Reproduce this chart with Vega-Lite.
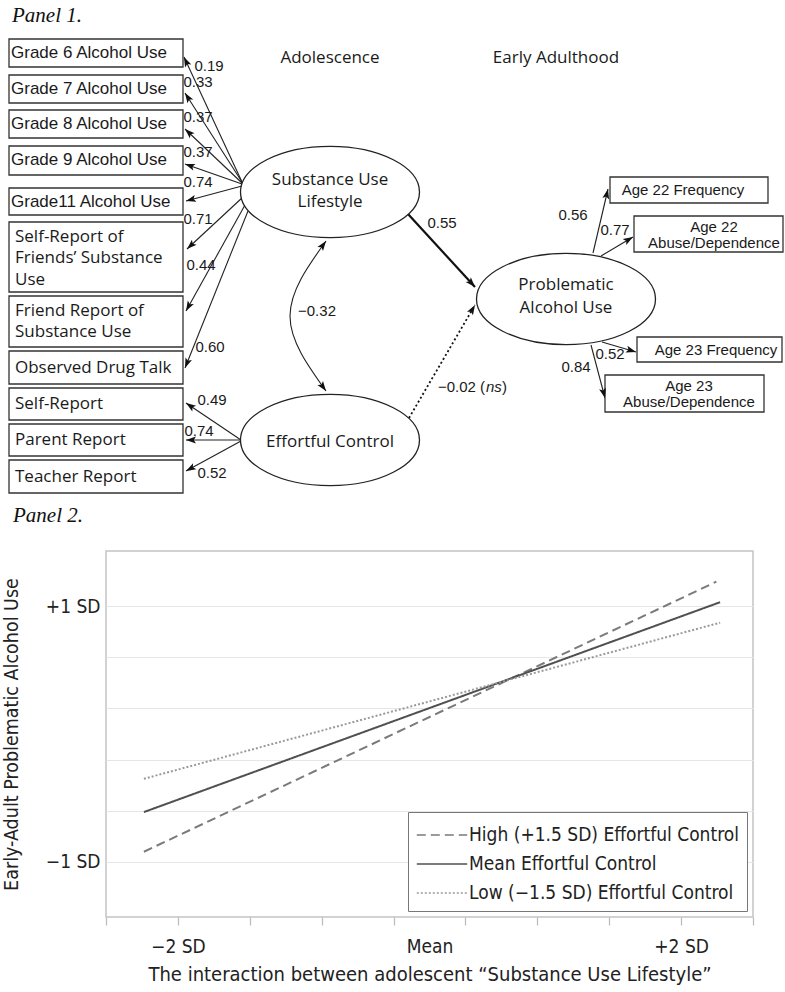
{
  "$schema": "https://vega.github.io/schema/vega-lite/v6.json",
  "padding": 0,
  "background": "white",
  "spacing": 4,
  "resolve": {"legend": {"color": "independent", "strokeDash": "independent"}},
  "config": {"view": {"stroke": null}},
  "datasets": {
    "boxes": [
      {"x1": 8, "x2": 182, "y1": 39, "y2": 67},
      {"x1": 8, "x2": 182, "y1": 75, "y2": 103},
      {"x1": 8, "x2": 182, "y1": 110, "y2": 138},
      {"x1": 8, "x2": 182, "y1": 146, "y2": 175},
      {"x1": 8, "x2": 182, "y1": 188, "y2": 215},
      {"x1": 8, "x2": 182, "y1": 222, "y2": 292},
      {"x1": 8, "x2": 182, "y1": 296, "y2": 347},
      {"x1": 8, "x2": 182, "y1": 351, "y2": 384},
      {"x1": 8, "x2": 182, "y1": 388, "y2": 420},
      {"x1": 8, "x2": 182, "y1": 424, "y2": 456},
      {"x1": 8, "x2": 182, "y1": 460, "y2": 493},
      {"x1": 609, "x2": 767, "y1": 177, "y2": 203},
      {"x1": 633, "x2": 782, "y1": 216, "y2": 252},
      {"x1": 636, "x2": 781, "y1": 337, "y2": 362},
      {"x1": 604, "x2": 763, "y1": 375, "y2": 412}
    ],
    "ellipses": [{"x": 329, "y": 192}, {"x": 329, "y": 440}, {"x": 565, "y": 299}],
    "edges": [
      {"x1": 241, "y1": 182, "x2": 183, "y2": 57},
      {"x1": 241, "y1": 182, "x2": 184, "y2": 93},
      {"x1": 241, "y1": 183, "x2": 184, "y2": 129},
      {"x1": 241, "y1": 184, "x2": 184, "y2": 164},
      {"x1": 241, "y1": 186, "x2": 185, "y2": 201},
      {"x1": 242, "y1": 197, "x2": 186, "y2": 249},
      {"x1": 244, "y1": 205, "x2": 185, "y2": 311},
      {"x1": 247, "y1": 211, "x2": 184, "y2": 368},
      {"x1": 240, "y1": 440, "x2": 185, "y2": 403},
      {"x1": 239, "y1": 440, "x2": 185, "y2": 440},
      {"x1": 240, "y1": 441, "x2": 185, "y2": 471},
      {"x1": 592, "y1": 253, "x2": 607, "y2": 189},
      {"x1": 600, "y1": 256, "x2": 632, "y2": 237},
      {"x1": 601, "y1": 342, "x2": 635, "y2": 352},
      {"x1": 590, "y1": 345, "x2": 604, "y2": 398}
    ],
    "thick": [{"x1": 407, "y1": 214, "x2": 474, "y2": 287}],
    "dotted": [{"x1": 408, "y1": 418, "x2": 474, "y2": 305}],
    "curve": [{"i": 0, "x": 325, "y": 241}, {"i": 1, "x": 289, "y": 316}, {"i": 2, "x": 325, "y": 391}],
    "heads": [
      {"x": 183, "y": 57, "angle": -24.9},
      {"x": 184, "y": 93, "angle": -32.6},
      {"x": 184, "y": 129, "angle": -46.5},
      {"x": 184, "y": 164, "angle": -70.7},
      {"x": 185, "y": 201, "angle": -105},
      {"x": 186, "y": 249, "angle": -132.9},
      {"x": 185, "y": 311, "angle": -150.9},
      {"x": 184, "y": 368, "angle": -158.1},
      {"x": 185, "y": 403, "angle": -56.1},
      {"x": 185, "y": 440, "angle": -90},
      {"x": 185, "y": 471, "angle": -118.6},
      {"x": 607, "y": 189, "angle": 13.2},
      {"x": 632, "y": 237, "angle": 59.3},
      {"x": 635, "y": 352, "angle": 106.4},
      {"x": 604, "y": 398, "angle": 165.2},
      {"x": 474, "y": 287, "angle": 137.5},
      {"x": 474, "y": 305, "angle": 30.3},
      {"x": 325, "y": 241, "angle": 35.8},
      {"x": 325, "y": 391, "angle": 144.2}
    ],
    "gradeText": [
      {"x": 10, "y": 53, "t": "Grade 6 Alcohol Use"},
      {"x": 10, "y": 89, "t": "Grade 7 Alcohol Use"},
      {"x": 10, "y": 124, "t": "Grade 8 Alcohol Use"},
      {"x": 10, "y": 160, "t": "Grade 9 Alcohol Use"},
      {"x": 10, "y": 202, "t": "Grade11 Alcohol Use"}
    ],
    "boxText": [
      {"x": 14, "y": 237, "t": "Self-Report of"},
      {"x": 14, "y": 258, "t": "Friends’ Substance"},
      {"x": 14, "y": 280, "t": "Use"},
      {"x": 14, "y": 311, "t": "Friend Report of"},
      {"x": 14, "y": 332, "t": "Substance Use"},
      {"x": 14, "y": 368, "t": "Observed Drug Talk"},
      {"x": 14, "y": 404, "t": "Self-Report"},
      {"x": 14, "y": 440, "t": "Parent Report"},
      {"x": 14, "y": 477, "t": "Teacher Report"}
    ],
    "rightText": [
      {"x": 682, "y": 190, "t": "Age 22 Frequency"},
      {"x": 713, "y": 227, "t": "Age 22"},
      {"x": 713, "y": 243, "t": "Abuse/Dependence"},
      {"x": 715, "y": 350, "t": "Age 23 Frequency"},
      {"x": 688, "y": 386, "t": "Age 23"},
      {"x": 688, "y": 402, "t": "Abuse/Dependence"}
    ],
    "coef": [
      {"x": 208, "y": 66, "t": "0.19"},
      {"x": 197, "y": 82, "t": "0.33"},
      {"x": 197, "y": 117, "t": "0.37"},
      {"x": 197, "y": 152, "t": "0.37"},
      {"x": 197, "y": 182, "t": "0.74"},
      {"x": 197, "y": 219, "t": "0.71"},
      {"x": 200, "y": 265, "t": "0.44"},
      {"x": 209, "y": 347, "t": "0.60"},
      {"x": 211, "y": 400, "t": "0.49"},
      {"x": 198, "y": 431, "t": "0.74"},
      {"x": 211, "y": 473, "t": "0.52"},
      {"x": 441, "y": 223, "t": "0.55"},
      {"x": 572, "y": 215, "t": "0.56"},
      {"x": 614, "y": 230, "t": "0.77"},
      {"x": 609, "y": 354, "t": "0.52"},
      {"x": 575, "y": 367, "t": "0.84"},
      {"x": 316, "y": 311, "t": "−0.32"}
    ],
    "nsA": [{"x": 437, "y": 387, "t": "−0.02 ("}, {"x": 501, "y": 387, "t": ")"}],
    "nsB": [{"x": 485, "y": 387, "t": "ns"}],
    "bigText": [
      {"x": 329, "y": 58, "t": "Adolescence"},
      {"x": 555, "y": 58, "t": "Early Adulthood"},
      {"x": 329, "y": 180, "t": "Substance Use"},
      {"x": 329, "y": 202, "t": "Lifestyle"},
      {"x": 329, "y": 442, "t": "Effortful Control"},
      {"x": 565, "y": 285, "t": "Problematic"},
      {"x": 565, "y": 308, "t": "Alcohol Use"}
    ],
    "panelTitle": [{"x": 11, "y": 16, "t": "Panel 1."}],
    "lines": [
      {"ec": "High (+1.5 SD) Effortful Control", "x": -2.27, "y": -0.92},
      {"ec": "High (+1.5 SD) Effortful Control", "x": 2.28, "y": 1.19},
      {"ec": "Mean Effortful Control", "x": -2.27, "y": -0.61},
      {"ec": "Mean Effortful Control", "x": 2.31, "y": 1.03},
      {"ec": "Low (−1.5 SD) Effortful Control", "x": -2.27, "y": -0.35},
      {"ec": "Low (−1.5 SD) Effortful Control", "x": 2.31, "y": 0.87}
    ]
  },
  "vconcat": [
    {
      "width": 647,
      "height": 500,
      "layer": [
        {
          "data": {"name": "edges"},
          "mark": {"type": "rule", "stroke": "#222", "strokeWidth": 1.1},
          "encoding": {
            "x": {"field": "x1", "type": "quantitative", "scale": {"domain": [105, 752], "nice": false, "zero": false}, "axis": null},
            "y": {"field": "y1", "type": "quantitative", "scale": {"domain": [0, 500], "reverse": true, "nice": false, "zero": false}, "axis": null},
            "x2": {"field": "x2"},
            "y2": {"field": "y2"}
          }
        },
        {
          "data": {"name": "thick"},
          "mark": {"type": "rule", "stroke": "#111", "strokeWidth": 2.2},
          "encoding": {
            "x": {"field": "x1", "type": "quantitative"},
            "y": {"field": "y1", "type": "quantitative"},
            "x2": {"field": "x2"},
            "y2": {"field": "y2"}
          }
        },
        {
          "data": {"name": "dotted"},
          "mark": {"type": "rule", "stroke": "#111", "strokeWidth": 1.8, "strokeDash": [2, 2.5]},
          "encoding": {
            "x": {"field": "x1", "type": "quantitative"},
            "y": {"field": "y1", "type": "quantitative"},
            "x2": {"field": "x2"},
            "y2": {"field": "y2"}
          }
        },
        {
          "data": {"name": "curve"},
          "mark": {"type": "line", "interpolate": "natural", "stroke": "#222", "strokeWidth": 1.1},
          "encoding": {
            "x": {"field": "x", "type": "quantitative"},
            "y": {"field": "y", "type": "quantitative"},
            "order": {"field": "i", "type": "quantitative"}
          }
        },
        {
          "data": {"name": "boxes"},
          "mark": {"type": "rect", "fill": "white", "stroke": "#333", "strokeWidth": 1.3},
          "encoding": {
            "x": {"field": "x1", "type": "quantitative"},
            "y": {"field": "y1", "type": "quantitative"},
            "x2": {"field": "x2"},
            "y2": {"field": "y2"}
          }
        },
        {
          "data": {"name": "ellipses"},
          "mark": {
            "type": "point",
            "shape": "M-1,0C-1,-0.282,-0.552,-0.51,0,-0.51C0.552,-0.51,1,-0.282,1,0C1,0.282,0.552,0.51,0,0.51C-0.552,0.51,-1,0.282,-1,0Z",
            "size": 32041,
            "filled": true,
            "fill": "white",
            "fillOpacity": 1,
            "opacity": 1,
            "stroke": "#222",
            "strokeWidth": 1.3
          },
          "encoding": {
            "x": {"field": "x", "type": "quantitative"},
            "y": {"field": "y", "type": "quantitative"}
          }
        },
        {
          "data": {"name": "heads"},
          "mark": {
            "type": "point",
            "shape": "M0,0L-0.4,1.15L0,0.9L0.4,1.15Z",
            "size": 300,
            "filled": true,
            "fill": "#111",
            "opacity": 1,
            "strokeWidth": 0
          },
          "encoding": {
            "x": {"field": "x", "type": "quantitative"},
            "y": {"field": "y", "type": "quantitative"},
            "angle": {"field": "angle", "type": "quantitative", "scale": null}
          }
        },
        {
          "data": {"name": "gradeText"},
          "mark": {"type": "text", "align": "left", "baseline": "middle", "font": "Liberation Sans", "fontSize": 17, "color": "#1a1a1a"},
          "encoding": {
            "x": {"field": "x", "type": "quantitative"},
            "y": {"field": "y", "type": "quantitative"},
            "text": {"field": "t"}
          }
        },
        {
          "data": {"name": "boxText"},
          "mark": {"type": "text", "align": "left", "baseline": "middle", "font": "Open Sans", "fontSize": 17, "color": "#1a1a1a"},
          "encoding": {
            "x": {"field": "x", "type": "quantitative"},
            "y": {"field": "y", "type": "quantitative"},
            "text": {"field": "t"}
          }
        },
        {
          "data": {"name": "rightText"},
          "mark": {"type": "text", "align": "center", "baseline": "middle", "font": "Liberation Sans", "fontSize": 15, "color": "#1a1a1a"},
          "encoding": {
            "x": {"field": "x", "type": "quantitative"},
            "y": {"field": "y", "type": "quantitative"},
            "text": {"field": "t"}
          }
        },
        {
          "data": {"name": "coef"},
          "mark": {"type": "text", "align": "center", "baseline": "middle", "font": "Liberation Sans", "fontSize": 15, "color": "#1a1a1a"},
          "encoding": {
            "x": {"field": "x", "type": "quantitative"},
            "y": {"field": "y", "type": "quantitative"},
            "text": {"field": "t"}
          }
        },
        {
          "data": {"name": "nsA"},
          "mark": {"type": "text", "align": "left", "baseline": "middle", "font": "Liberation Sans", "fontSize": 15, "color": "#1a1a1a"},
          "encoding": {
            "x": {"field": "x", "type": "quantitative"},
            "y": {"field": "y", "type": "quantitative"},
            "text": {"field": "t"}
          }
        },
        {
          "data": {"name": "nsB"},
          "mark": {"type": "text", "align": "left", "baseline": "middle", "font": "Liberation Sans", "fontStyle": "italic", "fontSize": 15, "color": "#1a1a1a"},
          "encoding": {
            "x": {"field": "x", "type": "quantitative"},
            "y": {"field": "y", "type": "quantitative"},
            "text": {"field": "t"}
          }
        },
        {
          "data": {"name": "bigText"},
          "mark": {"type": "text", "align": "center", "baseline": "middle", "font": "Open Sans", "fontSize": 17, "color": "#1a1a1a"},
          "encoding": {
            "x": {"field": "x", "type": "quantitative"},
            "y": {"field": "y", "type": "quantitative"},
            "text": {"field": "t"}
          }
        },
        {
          "data": {"name": "panelTitle"},
          "mark": {"type": "text", "align": "left", "baseline": "middle", "font": "Liberation Serif", "fontStyle": "italic", "fontSize": 21, "color": "#111"},
          "encoding": {
            "x": {"field": "x", "type": "quantitative"},
            "y": {"field": "y", "type": "quantitative"},
            "text": {"field": "t"}
          }
        }
      ]
    },
    {
      "width": 647,
      "height": 366,
      "view": {"stroke": "#c4c4c4", "strokeWidth": 1.5},
      "title": {"text": "Panel 2.", "anchor": "start", "frame": "group", "dx": -93, "offset": 25, "font": "Liberation Serif", "fontStyle": "italic", "fontWeight": "normal", "fontSize": 21, "color": "#111"},
      "data": {"name": "lines"},
      "mark": {"type": "line", "strokeWidth": 2},
      "encoding": {
        "x": {
          "field": "x", "type": "quantitative",
          "scale": {"domain": [-2.5714, 2.5714], "nice": false, "zero": false},
          "axis": {
            "title": "The interaction between adolescent “Substance Use Lifestyle”",
            "values": [-2.5714, -2, -1.4286, -0.8571, -0.2857, 0, 0.2857, 0.8571, 1.4286, 2, 2.5714],
            "labelExpr": "datum.value === -2 ? '−2 SD' : datum.value === 0 ? 'Mean' : datum.value === 2 ? '+2 SD' : ''",
            "grid": false, "domain": false, "ticks": true,
            "tickColor": {"condition": {"test": "datum.value === 0", "value": "transparent"}, "value": "#bbbbbb"},
            "tickSize": 8, "tickWidth": 1.2,
            "labelFont": "DejaVu Sans Condensed", "labelFontSize": 19, "labelColor": "#222", "labelPadding": 12,
            "labelFlush": false, "labelOverlap": false,
            "titleFont": "DejaVu Sans Condensed", "titleFontSize": 20, "titleFontWeight": "normal", "titleColor": "#222", "titlePadding": 8
          }
        },
        "y": {
          "field": "y", "type": "quantitative",
          "scale": {"domain": [-1.43, 1.43], "nice": false, "zero": false},
          "axis": {
            "title": "Early-Adult Problematic Alcohol Use",
            "values": [-1, -0.6, -0.2, 0.2, 0.6, 1],
            "labelExpr": "datum.value === 1 ? '+1 SD' : datum.value === -1 ? '−1 SD' : ''",
            "grid": true, "gridColor": "#e6e6e6", "gridWidth": 1.2, "ticks": false, "domain": false,
            "labelFont": "DejaVu Sans Condensed", "labelFontSize": 19, "labelColor": "#222", "labelPadding": 6,
            "titleFont": "DejaVu Sans Condensed", "titleFontSize": 19.5, "titleFontWeight": "normal", "titleColor": "#222", "titlePadding": 24
          }
        },
        "color": {
          "field": "ec", "type": "nominal",
          "scale": {"domain": ["High (+1.5 SD) Effortful Control", "Mean Effortful Control", "Low (−1.5 SD) Effortful Control"], "range": ["#7a7a7a", "#505050", "#9a9a9a"]},
          "legend": {
            "title": null, "orient": "bottom-right", "offset": 6,
            "fillColor": "white", "strokeColor": "#777", "padding": 8, "labelLimit": 400,
            "labelFont": "DejaVu Sans Condensed", "labelFontSize": 19, "labelColor": "#222",
            "symbolType": "M-1.8,0H1.8", "symbolSize": 784, "symbolStrokeWidth": 1.6, "symbolOffset": 11, "labelOffset": 12, "rowPadding": 4
          }
        },
        "strokeDash": {
          "field": "ec", "type": "nominal",
          "scale": {"domain": ["High (+1.5 SD) Effortful Control", "Mean Effortful Control", "Low (−1.5 SD) Effortful Control"], "range": [[9, 5], [1, 0], [2, 2]]},
          "legend": {
            "title": null, "orient": "bottom-right", "offset": 6,
            "fillColor": "white", "strokeColor": "#777", "padding": 8, "labelLimit": 400,
            "labelFont": "DejaVu Sans Condensed", "labelFontSize": 19, "labelColor": "#222",
            "symbolType": "M-1.8,0H1.8", "symbolSize": 784, "symbolStrokeWidth": 1.6, "symbolOffset": 11, "labelOffset": 12, "rowPadding": 4
          }
        }
      }
    }
  ]
}
